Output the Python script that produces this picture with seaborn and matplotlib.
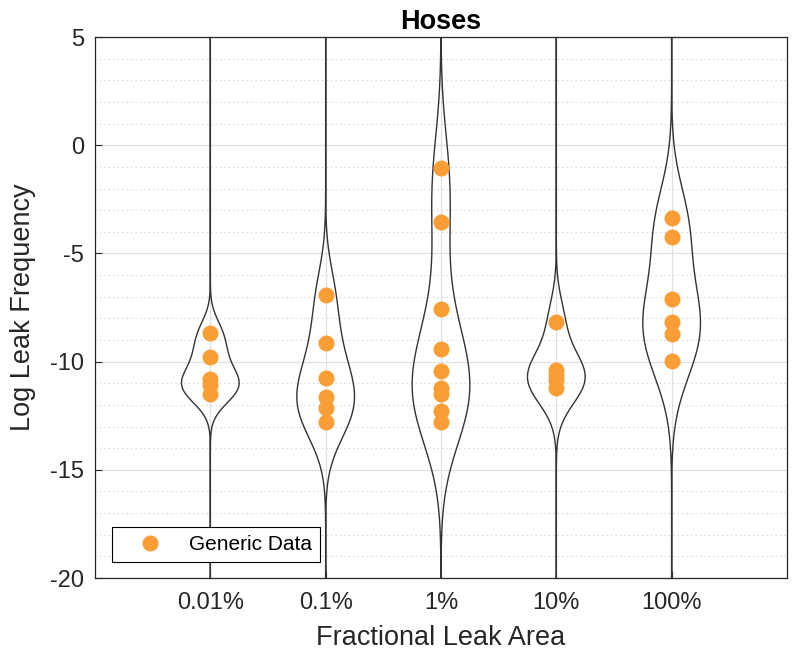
import numpy as np
import pandas as pd
import matplotlib
matplotlib.use("Agg")
import matplotlib.pyplot as plt
import seaborn as sns
from matplotlib.lines import Line2D
from matplotlib.ticker import MultipleLocator

# Log leak frequencies per fractional leak area (generic data)
leak_areas = ["0.01%", "0.1%", "1%", "10%", "100%"]
freq_001 = [-8.70, -9.77, -10.82, -11.08, -11.50]
freq_01 = [-6.92, -9.13, -10.74, -11.62, -12.16, -12.80]
freq_1 = [-1.04, -3.55, -7.57, -9.43, -10.43, -11.23, -11.51, -12.27, -12.80]
freq_10 = [-8.16, -10.40, -10.60, -10.85, -11.20]
freq_100 = [-3.35, -4.23, -7.11, -8.16, -8.72, -9.96]
y_ticks = [-20, -15, -10, -5, 0, 5]

# KDE bandwidth factor used for each leak-area violin
bw_factors = [0.66, 0.68, 0.55, 0.95, 0.74]

groups = [freq_001, freq_01, freq_1, freq_10, freq_100]
df = pd.DataFrame({
    "area": np.repeat(leak_areas, [len(g) for g in groups]),
    "freq": np.concatenate(groups),
})

sns.set_theme(style="white")
plt.rcParams["font.family"] = ["Liberation Sans", "DejaVu Sans"]
plt.rcParams["axes.unicode_minus"] = False

text_c = "#262626"
fig = plt.figure(figsize=(7.93, 6.6), dpi=100)
ax = fig.add_axes([0.1198, 0.1242, 0.8726, 0.8197])

# Outline-only violins; long cut so the tails run to the axis limits
for area, bw in zip(leak_areas, bw_factors):
    sns.violinplot(data=df[df["area"] == area], x="area", y="freq",
                   order=leak_areas, fill=False, color="#333333",
                   saturation=1, linewidth=1.0, inner=None,
                   density_norm="width", width=0.5, cut=45, gridsize=5000,
                   bw_method=bw, ax=ax)
sns.stripplot(data=df, x="area", y="freq", order=leak_areas, jitter=False,
              color="#F99D34", size=11.5, linewidth=0, zorder=3, ax=ax)

ax.set_xlim(-1, 5)
ax.set_ylim(-20, 5)
ax.set_yticks(y_ticks)
ax.set_yticklabels([str(t) for t in y_ticks])
ax.yaxis.set_minor_locator(MultipleLocator(1))

ax.set_axisbelow(True)
ax.grid(which="major", axis="both", color="#e0e0e0", lw=0.9)
ax.grid(which="minor", axis="y", color="#cfcfcf", ls=(0, (1, 3)), lw=0.8)

for s in ax.spines.values():
    s.set_visible(True)
    s.set_color(text_c)
    s.set_linewidth(0.9)
ax.tick_params(which="major", direction="in", length=5, width=0.8,
               colors=text_c, labelsize=17, left=True, bottom=True)
ax.tick_params(axis="x", pad=10)
ax.tick_params(axis="y", pad=8)
ax.tick_params(which="minor", length=0)

ax.set_xlabel("Fractional Leak Area", fontsize=19.5, color=text_c, labelpad=8)
ax.set_ylabel("Log Leak Frequency", fontsize=19.5, color=text_c, labelpad=10)
ax.set_title("Hoses", fontsize=19.5, fontweight="bold", color="black", pad=6)

handle = Line2D([], [], marker="o", linestyle="none", color="#F99D34",
                markersize=11.5, markeredgewidth=0)
leg = ax.legend([handle], ["Generic Data"], loc="lower left",
                bbox_to_anchor=(0.024, 0.029), borderaxespad=0,
                fontsize=15, frameon=True, fancybox=False, framealpha=1,
                borderpad=0.4, handlelength=2.9, handletextpad=0.4)
leg.get_frame().set_edgecolor("black")
leg.get_frame().set_linewidth(0.8)
for t in leg.get_texts():
    t.set_color("black")

fig.savefig("out.png", dpi=100)
